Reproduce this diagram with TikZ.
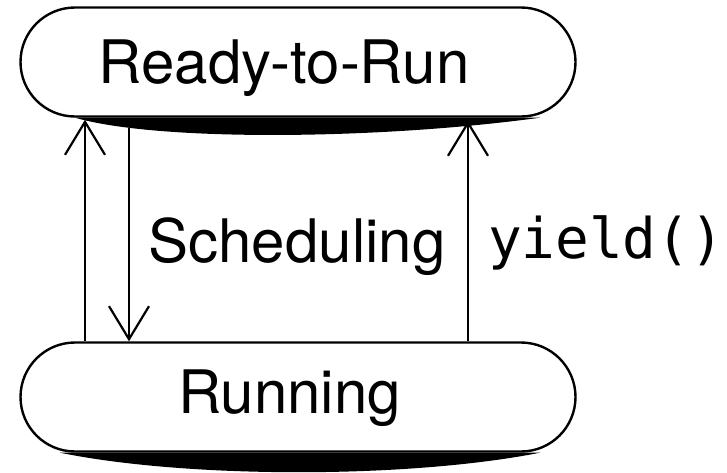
\documentclass[tikz,border=0pt]{standalone}
\usepackage{fontspec}
\setmainfont{TeX Gyre Heros}
\newfontfamily\codefont{DejaVu Sans Mono}
\usetikzlibrary{shapes.misc,arrows.meta}

\tikzset{
  state/.style={draw, rounded rectangle, line width=2.4pt,
    minimum width=555pt, minimum height=109pt, inner sep=0pt},
  statetext/.style={anchor=base, inner sep=0pt, font=\fontsize{60}{62}\selectfont},
  edgetext/.style={anchor=base, inner sep=0pt, font=\fontsize{60}{62}\selectfont},
  codetext/.style={anchor=base, inner sep=0pt, font=\codefont\fontsize{56}{58}\selectfont},
  arr/.style={line width=2.2pt, -{Straight Barb[length=33pt, width=40pt, line width=2.2pt]}}
}

\begin{document}
\begin{tikzpicture}[x=1pt, y=-1pt]
  \useasboundingbox (0,0) rectangle (727,472);

  % the two states
  \node[state] (ready) at (298,62) {};
  \node[state] (run)   at (298,397) {};

  % heavy swoosh under each state
  \fill ([xshift=-223pt]ready.south)
      .. controls ([xshift=-140pt,yshift=-24pt]ready.south)
               and ([xshift=80pt,yshift=-22pt]ready.south)
      .. ([xshift=242pt]ready.south) -- cycle;
  \fill ([xshift=-238pt]run.south)
      .. controls ([xshift=-110pt,yshift=-26pt]run.south)
               and ([xshift=110pt,yshift=-26pt]run.south)
      .. ([xshift=242pt]run.south) -- cycle;

  % state names
  \node[statetext] (readytxt) at ([xshift=-14pt,yshift=-21.5pt]ready.center) {Ready-to-Run};
  \node[statetext] (runtxt)   at ([xshift=-8.5pt,yshift=-16pt]run.center) {Running};

  % columns of the transitions
  \coordinate (xa) at (85,0);
  \coordinate (xb) at (129,0);
  \coordinate (xc) at (468,0);

  % transitions
  \draw[arr, shorten >=2pt]  (run.north -| xa) -- (ready.south -| xa);
  \draw[arr, shorten <=10pt] (ready.south -| xb) -- (run.north -| xb);
  \draw[arr, shorten >=3pt]  (run.north -| xc) -- (ready.south -| xc);

  % transition labels
  \node[edgetext] (sched) at (297,262) {Scheduling};
  \node[codetext] (yield) at (606,258) {yield()};
\end{tikzpicture}
\end{document}
